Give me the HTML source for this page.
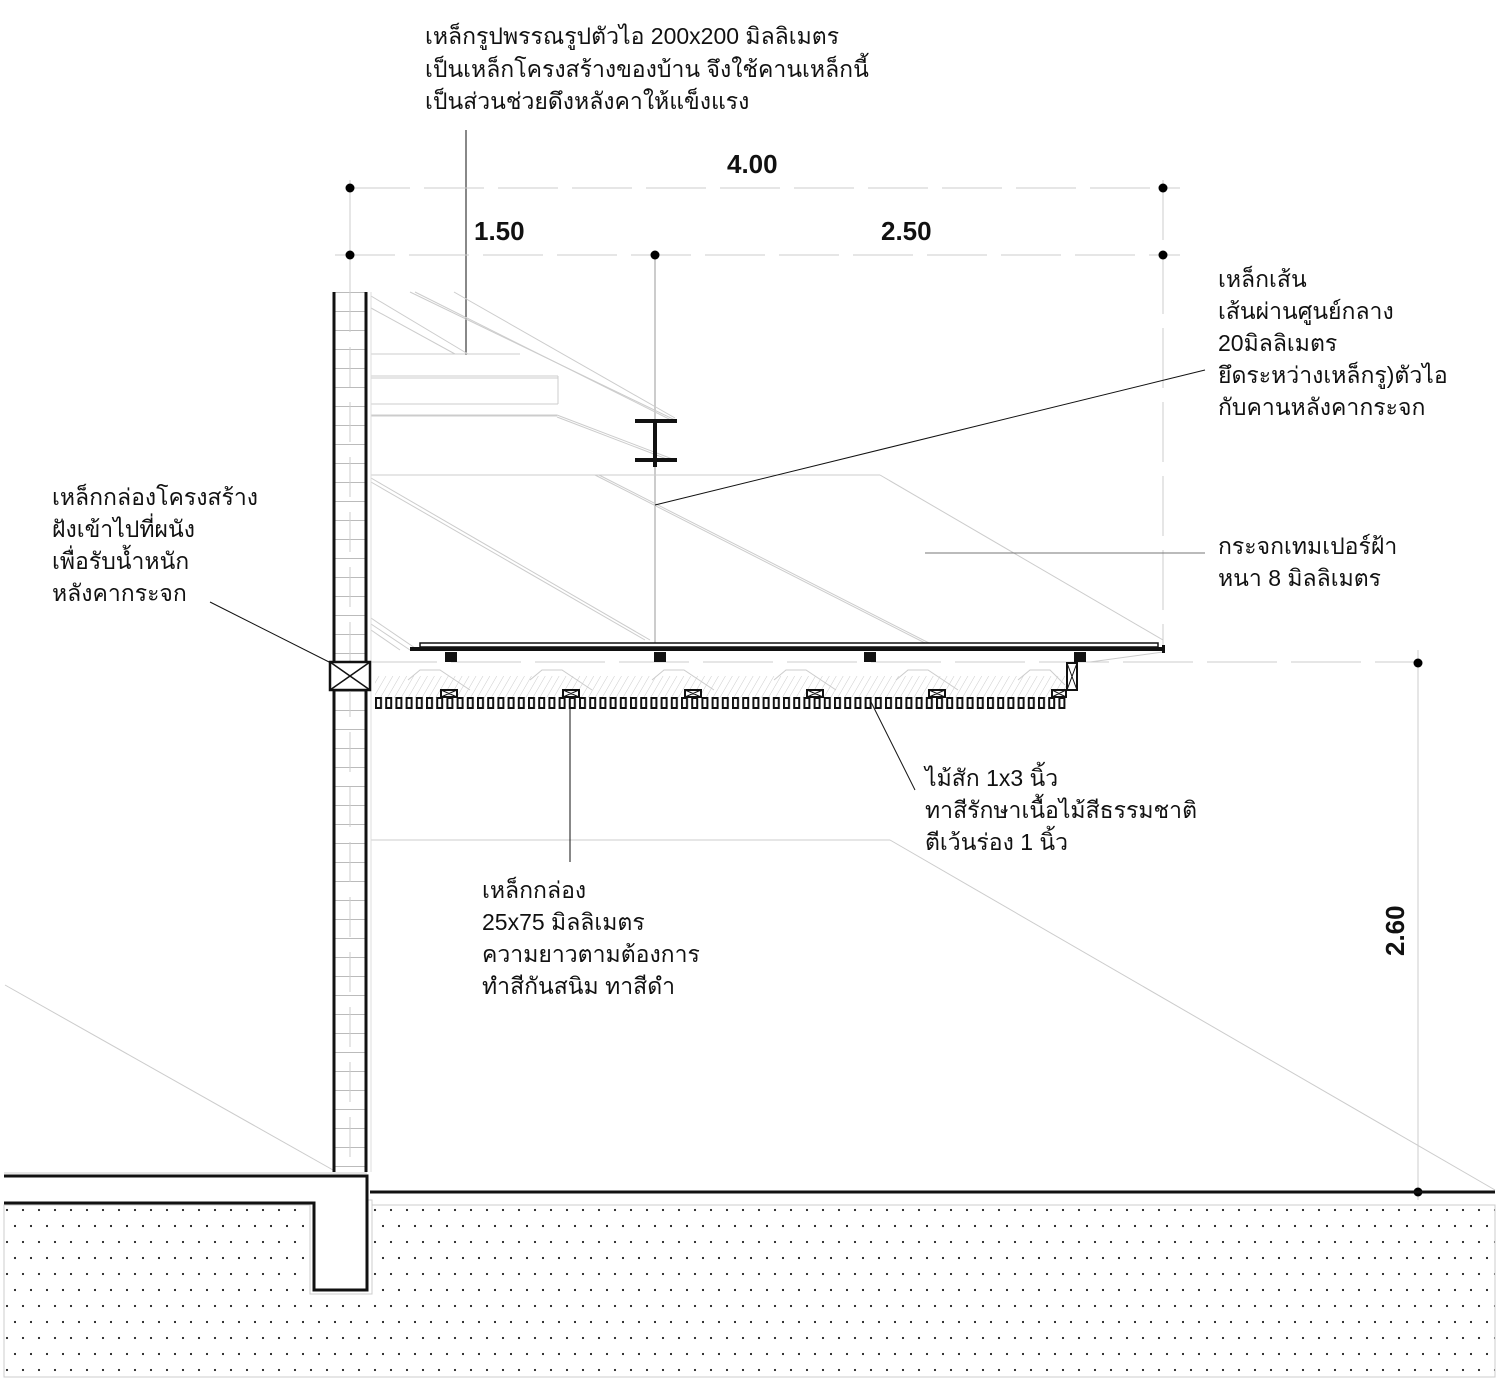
<!DOCTYPE html>
<html><head><meta charset="utf-8"><style>
html,body{margin:0;padding:0;background:#fff}
svg{display:block}
.t{font-family:"Liberation Sans","Noto Sans CJK SC",sans-serif;font-size:23px;fill:#111}
.d{font-family:"Liberation Sans",sans-serif;font-size:26px;font-weight:bold;fill:#111}
</style></head><body>
<svg width="1500" height="1387" viewBox="0 0 1500 1387" xmlns="http://www.w3.org/2000/svg">
<defs>
<pattern id="dots" x="0" y="1203" width="16" height="32" patternUnits="userSpaceOnUse">
<circle cx="7" cy="7" r="1.1" fill="#222"/><circle cx="15" cy="23" r="1.1" fill="#222"/>
</pattern>
<pattern id="slat" x="375" y="697" width="10.2" height="14" patternUnits="userSpaceOnUse">
<rect x="1" y="1" width="5" height="10" fill="none" stroke="#111" stroke-width="2"/>
</pattern>
<pattern id="hatch" width="6" height="6" patternUnits="userSpaceOnUse" patternTransform="rotate(30)">
<line x1="0" y1="0" x2="0" y2="6" stroke="#ccc" stroke-width="1"/>
</pattern>
<pattern id="wallg" x="333" y="292" width="34" height="19" patternUnits="userSpaceOnUse">
<line x1="0" y1="0.5" x2="34" y2="0.5" stroke="#bbb"/>
</pattern>
</defs>

<text class="t" x="425" y="44">เหล็กรูปพรรณรูปตัวไอ 200x200 มิลลิเมตร</text>
<text class="t" x="425" y="77">เป็นเหล็กโครงสร้างของบ้าน จึงใช้คานเหล็กนี้</text>
<text class="t" x="425" y="109">เป็นส่วนช่วยดึงหลังคาให้แข็งแรง</text>
<line x1="466" y1="130" x2="466" y2="355" stroke="#111" stroke-width="1"/>

<line x1="350" y1="188" x2="1180" y2="188" stroke="#ccc" stroke-dasharray="60,14"/>
<line x1="335" y1="255" x2="1180" y2="255" stroke="#ccc" stroke-dasharray="60,14"/>
<line x1="350" y1="180" x2="350" y2="292" stroke="#ccc"/>
<line x1="655" y1="255" x2="655" y2="645" stroke="#ccc" stroke-width="2"/>
<line x1="1163" y1="180" x2="1163" y2="645" stroke="#ccc" stroke-dasharray="60,14"/>
<circle cx="350" cy="188" r="4.5"/><circle cx="1163" cy="188" r="4.5"/>
<circle cx="350" cy="255" r="4.5"/><circle cx="655" cy="255" r="4.5"/><circle cx="1163" cy="255" r="4.5"/>
<text class="d" x="727" y="173">4.00</text>
<text class="d" x="474" y="240">1.50</text>
<text class="d" x="881" y="240">2.50</text>

<g stroke="#ccc" fill="none" stroke-width="1">
<line x1="371" y1="296" x2="468" y2="354"/><line x1="371" y1="308" x2="455" y2="354"/>
<line x1="410" y1="292" x2="675" y2="420"/><line x1="415" y1="292" x2="675" y2="422"/>
<line x1="454" y1="292" x2="675" y2="418"/>
<line x1="371" y1="354" x2="520" y2="354"/>
<line x1="371" y1="376" x2="558" y2="376"/><line x1="371" y1="378" x2="558" y2="378"/>
<line x1="558" y1="376" x2="558" y2="404"/>
<line x1="371" y1="404" x2="558" y2="404"/><line x1="371" y1="415" x2="557" y2="415"/><line x1="371" y1="416" x2="557" y2="416"/>
<line x1="557" y1="415" x2="675" y2="460"/><line x1="557" y1="417" x2="672" y2="461"/>
<line x1="371" y1="475" x2="880" y2="475"/>
<line x1="880" y1="475" x2="1163" y2="640"/>
<line x1="371" y1="478" x2="650" y2="640"/><line x1="371" y1="482" x2="645" y2="640"/>
<line x1="595" y1="475" x2="925" y2="643"/><line x1="599" y1="475" x2="929" y2="643"/>
<line x1="371" y1="618" x2="415" y2="648"/><line x1="371" y1="624" x2="410" y2="650"/>
<line x1="371" y1="630" x2="400" y2="650"/>
<line x1="367" y1="662" x2="1420" y2="662" stroke-dasharray="70,14"/>
<line x1="1090" y1="662" x2="1163" y2="652"/>
<line x1="371" y1="840" x2="890" y2="840"/>
<line x1="890" y1="840" x2="1495" y2="1190"/>
<line x1="5" y1="985" x2="333" y2="1170"/>
<line x1="1418" y1="650" x2="1418" y2="1200"/>
</g>

<g stroke="#111" stroke-width="4"><line x1="635" y1="421" x2="677" y2="421"/><line x1="635" y1="460" x2="677" y2="460"/><line x1="655" y1="421" x2="655" y2="467"/></g>

<line x1="1205" y1="370" x2="655" y2="505" stroke="#111"/>
<text class="t" x="1218" y="287">เหล็กเส้น</text>
<text class="t" x="1218" y="319">เส้นผ่านศูนย์กลาง</text>
<text class="t" x="1218" y="351">20มิลลิเมตร</text>
<text class="t" x="1218" y="383">ยึดระหว่างเหล็กรู)ตัวไอ</text>
<text class="t" x="1218" y="415">กับคานหลังคากระจก</text>

<line x1="925" y1="553" x2="1205" y2="553" stroke="#777"/>
<text class="t" x="1218" y="554">กระจกเทมเปอร์ฝ้า</text>
<text class="t" x="1218" y="586">หนา 8 มิลลิเมตร</text>

<text class="t" x="52" y="505">เหล็กกล่องโครงสร้าง</text>
<text class="t" x="52" y="537">ฝังเข้าไปที่ผนัง</text>
<text class="t" x="52" y="569">เพื่อรับน้ำหนัก</text>
<text class="t" x="52" y="601">หลังคากระจก</text>
<line x1="210" y1="602" x2="335" y2="665" stroke="#111"/>

<rect x="333" y="292" width="34" height="880" fill="url(#wallg)"/>
<line x1="350" y1="292" x2="350" y2="1172" stroke="#ccc" stroke-dasharray="40,15"/>
<line x1="334" y1="292" x2="334" y2="1172" stroke="#111" stroke-width="3"/>
<line x1="366" y1="292" x2="366" y2="1172" stroke="#111" stroke-width="3"/>
<line x1="371" y1="292" x2="371" y2="1172" stroke="#ddd"/>
<rect x="330" y="662" width="40" height="28" fill="#fff" stroke="#111" stroke-width="2.5"/>
<line x1="330" y1="662" x2="370" y2="690" stroke="#111" stroke-width="1.5"/><line x1="370" y1="662" x2="330" y2="690" stroke="#111" stroke-width="1.5"/>

<rect x="420" y="643" width="738" height="4" fill="#fff" stroke="#111" stroke-width="1.5"/>
<rect x="410" y="647" width="755" height="4" fill="#111"/>
<rect x="1162" y="645" width="3" height="8" fill="#111"/>
<g fill="#111"><rect x="445" y="652" width="12" height="10"/><rect x="654" y="652" width="12" height="10"/><rect x="864" y="652" width="12" height="10"/><rect x="1074" y="652" width="12" height="10"/></g>

<rect x="375" y="676" width="692" height="22" fill="url(#hatch)"/>
<g stroke="#ccc" fill="none">
<path d="M408 680 L420 670 L440 670 L470 690"/><path d="M530 680 L542 670 L562 670 L592 690"/>
<path d="M652 680 L664 670 L684 670 L714 690"/><path d="M774 680 L786 670 L806 670 L836 690"/>
<path d="M896 680 L908 670 L928 670 L958 690"/><path d="M1018 680 L1030 670 L1050 670 L1065 685"/>
</g>
<rect x="375" y="697" width="692" height="12" fill="url(#slat)"/>
<g fill="#fff" stroke="#111" stroke-width="2">
<rect x="441" y="690" width="16" height="7"/><rect x="563" y="690" width="16" height="7"/><rect x="685" y="690" width="16" height="7"/>
<rect x="807" y="690" width="16" height="7"/><rect x="929" y="690" width="16" height="7"/><rect x="1052" y="690" width="14" height="7"/>
<rect x="1067" y="663" width="10" height="27"/>
</g>
<g stroke="#111" stroke-width="1">
<path d="M441 690 L457 697 M457 690 L441 697 M563 690 L579 697 M579 690 L563 697 M685 690 L701 697 M701 690 L685 697 M807 690 L823 697 M823 690 L807 697 M929 690 L945 697 M945 690 L929 697 M1052 690 L1066 697 M1066 690 L1052 697"/>
<line x1="1067" y1="663" x2="1077" y2="690"/><line x1="1077" y1="663" x2="1067" y2="690"/>
</g>

<line x1="570" y1="697" x2="570" y2="862" stroke="#111"/>
<line x1="870" y1="700" x2="915" y2="790" stroke="#111"/>
<text class="t" x="925" y="786">ไม้สัก 1x3 นิ้ว</text>
<text class="t" x="925" y="818">ทาสีรักษาเนื้อไม้สีธรรมชาติ</text>
<text class="t" x="925" y="850">ตีเว้นร่อง 1 นิ้ว</text>
<text class="t" x="482" y="898">เหล็กกล่อง</text>
<text class="t" x="482" y="930">25x75 มิลลิเมตร</text>
<text class="t" x="482" y="962">ความยาวตามต้องการ</text>
<text class="t" x="482" y="994">ทำสีกันสนิม ทาสีดำ</text>

<circle cx="1418" cy="663" r="4.5"/><circle cx="1418" cy="1192" r="4.5"/>
<text class="d" transform="translate(1404,956) rotate(-90)">2.60</text>

<rect x="4" y="1205" width="1491" height="172" fill="url(#dots)" stroke="#ccc"/>
<rect x="4" y="1174" width="366" height="30" fill="#fff"/>
<rect x="310" y="1200" width="62" height="94" fill="#fff" stroke="#ccc"/>
<path d="M4 1176 L367 1176 L367 1290 L314 1290 L314 1203 L4 1203" fill="#fff" stroke="#111" stroke-width="3"/>
<line x1="4" y1="1173" x2="367" y2="1173" stroke="#ccc"/>
<line x1="370" y1="1192" x2="1495" y2="1192" stroke="#111" stroke-width="3"/>
</svg>
</body></html>
